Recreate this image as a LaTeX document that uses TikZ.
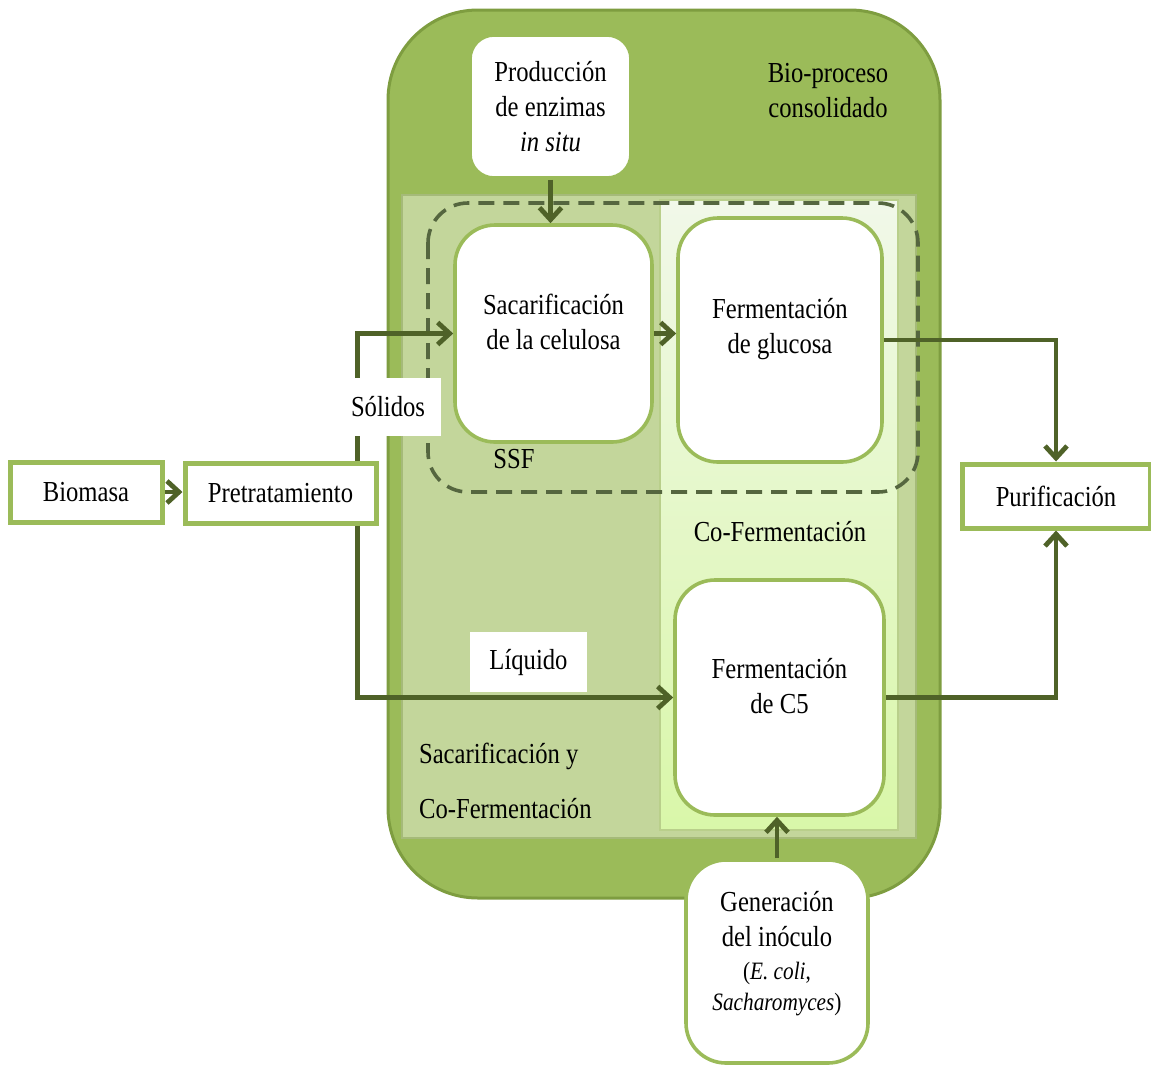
\documentclass[tikz,border=0pt]{standalone}
\usepackage{fontspec}
\setmainfont[FakeStretch=0.85]{Liberation Serif}
\usetikzlibrary{arrows.meta}
\definecolor{olive}{HTML}{9BBB59}
\definecolor{oliveedge}{HTML}{7E9D40}
\definecolor{palegreen}{HTML}{C3D69B}
\definecolor{darkolive}{HTML}{4F6228}
\definecolor{dashgray}{HTML}{55663F}
\definecolor{minttop}{HTML}{F1F8E9}
\definecolor{mintbot}{HTML}{D9F7A9}
\newcommand\inocfont{\fontsize{12.5pt}{15pt}\selectfont}

\begin{document}
\begin{tikzpicture}[x=0.5pt,y=-0.5pt,
    every node/.style={font=\fontsize{14.5pt}{17.5pt}\selectfont},
    card/.style={draw=olive, line width=1.8pt, fill=white, rounded corners=20pt, align=center},
    plainbox/.style={draw=olive, line width=2.5pt, fill=white},
    arr/.style={draw=darkolive, line width=2.4pt, -{Straight Barb[length=6pt,width=11pt]}},
    tag/.style={fill=white, inner sep=0pt}]
  \useasboundingbox (0,0) rectangle (1151,1067);
  % consolidated bioprocess and its inner zones
  \draw[fill=olive, draw=oliveedge, line width=1.5pt, rounded corners=45pt] (388,10) rectangle (940,898);
  \draw[fill=palegreen, draw=oliveedge!70, line width=0.8pt] (402,195) rectangle (916,838);
  \draw[top color=minttop, bottom color=mintbot, draw=olive!70, line width=0.8pt] (660,200) rectangle (898,830);
  \draw[dashgray, line width=1.8pt, dash pattern=on 8pt off 4.5pt, rounded corners=20pt] (428,203) rectangle (918,492);

  \node[align=center] (bpc) at (828,91) {Bio-proceso\\consolidado};
  \node (ssf) at (514,459) {SSF};
  \node (cof) at (780,532) {Co-Fermentación};
  \node[align=left, anchor=west] (scf) at (412,781) {Sacarificación y\\[10pt]Co-Fermentación};

  % process steps
  \node[card, minimum width=80.5pt, minimum height=71.5pt, rounded corners=12pt] (prod) at (550.5,106.5)
       {Producción\\de enzimas\\\textit{in situ}};
  \node[card, minimum width=98.5pt, minimum height=108.5pt] (sac) at (553.5,333.5)
       {Sacarificación\\de la celulosa\\[-6pt]\mbox{}};
  \node[card, minimum width=102pt, minimum height=122pt] (glu) at (780,340)
       {Fermentación\\de glucosa\\[-3pt]\mbox{}};
  \node[card, minimum width=104.5pt, minimum height=117.5pt] (c5) at (779.5,697.5)
       {Fermentación\\de C5\\[-6pt]\mbox{}};
  \node[card, minimum width=91pt, minimum height=101.5pt] (gen) at (777,961.5)
       {Generación\\del inóculo\\[-1pt]{\inocfont(\textit{E. coli},}\\[-2pt]{\inocfont\textit{Sacharomyces})}\\[-6.5pt]\mbox{}};

  \node[plainbox, minimum width=76pt, minimum height=30pt] (bio) at (86,492) {Biomasa};
  \node[plainbox, minimum width=95.5pt, minimum height=30pt] (pre) at (280.5,493) {Pretratamiento};
  \node[plainbox, minimum width=94pt, minimum height=32pt] (pur) at (1056,496) {Purificación};

  % flows
  \draw[arr] (bio.east) -- (bio.east -| pre.west);
  \draw[arr] (prod.south) -- (prod.south |- sac.north);
  \draw[arr] ([xshift=-10.5pt]pre.north east) |- (sac.west);
  \draw[arr] ([xshift=-10.5pt]pre.south east) |- (c5.west);
  \draw[arr] (sac.east) -- (sac.east -| glu.west);
  \draw[arr] (glu.east) -| (pur.north);
  \draw[arr] (c5.east) -| (pur.south);
  \draw[arr] (gen.north) -- (gen.north |- c5.south);

  \node[tag, minimum width=52.5pt, minimum height=29pt] (sol) at (388,407) {Sólidos};
  \node[tag, minimum width=58.5pt, minimum height=30pt] (liq) at (528.5,662) {Líquido};
\end{tikzpicture}
\end{document}
